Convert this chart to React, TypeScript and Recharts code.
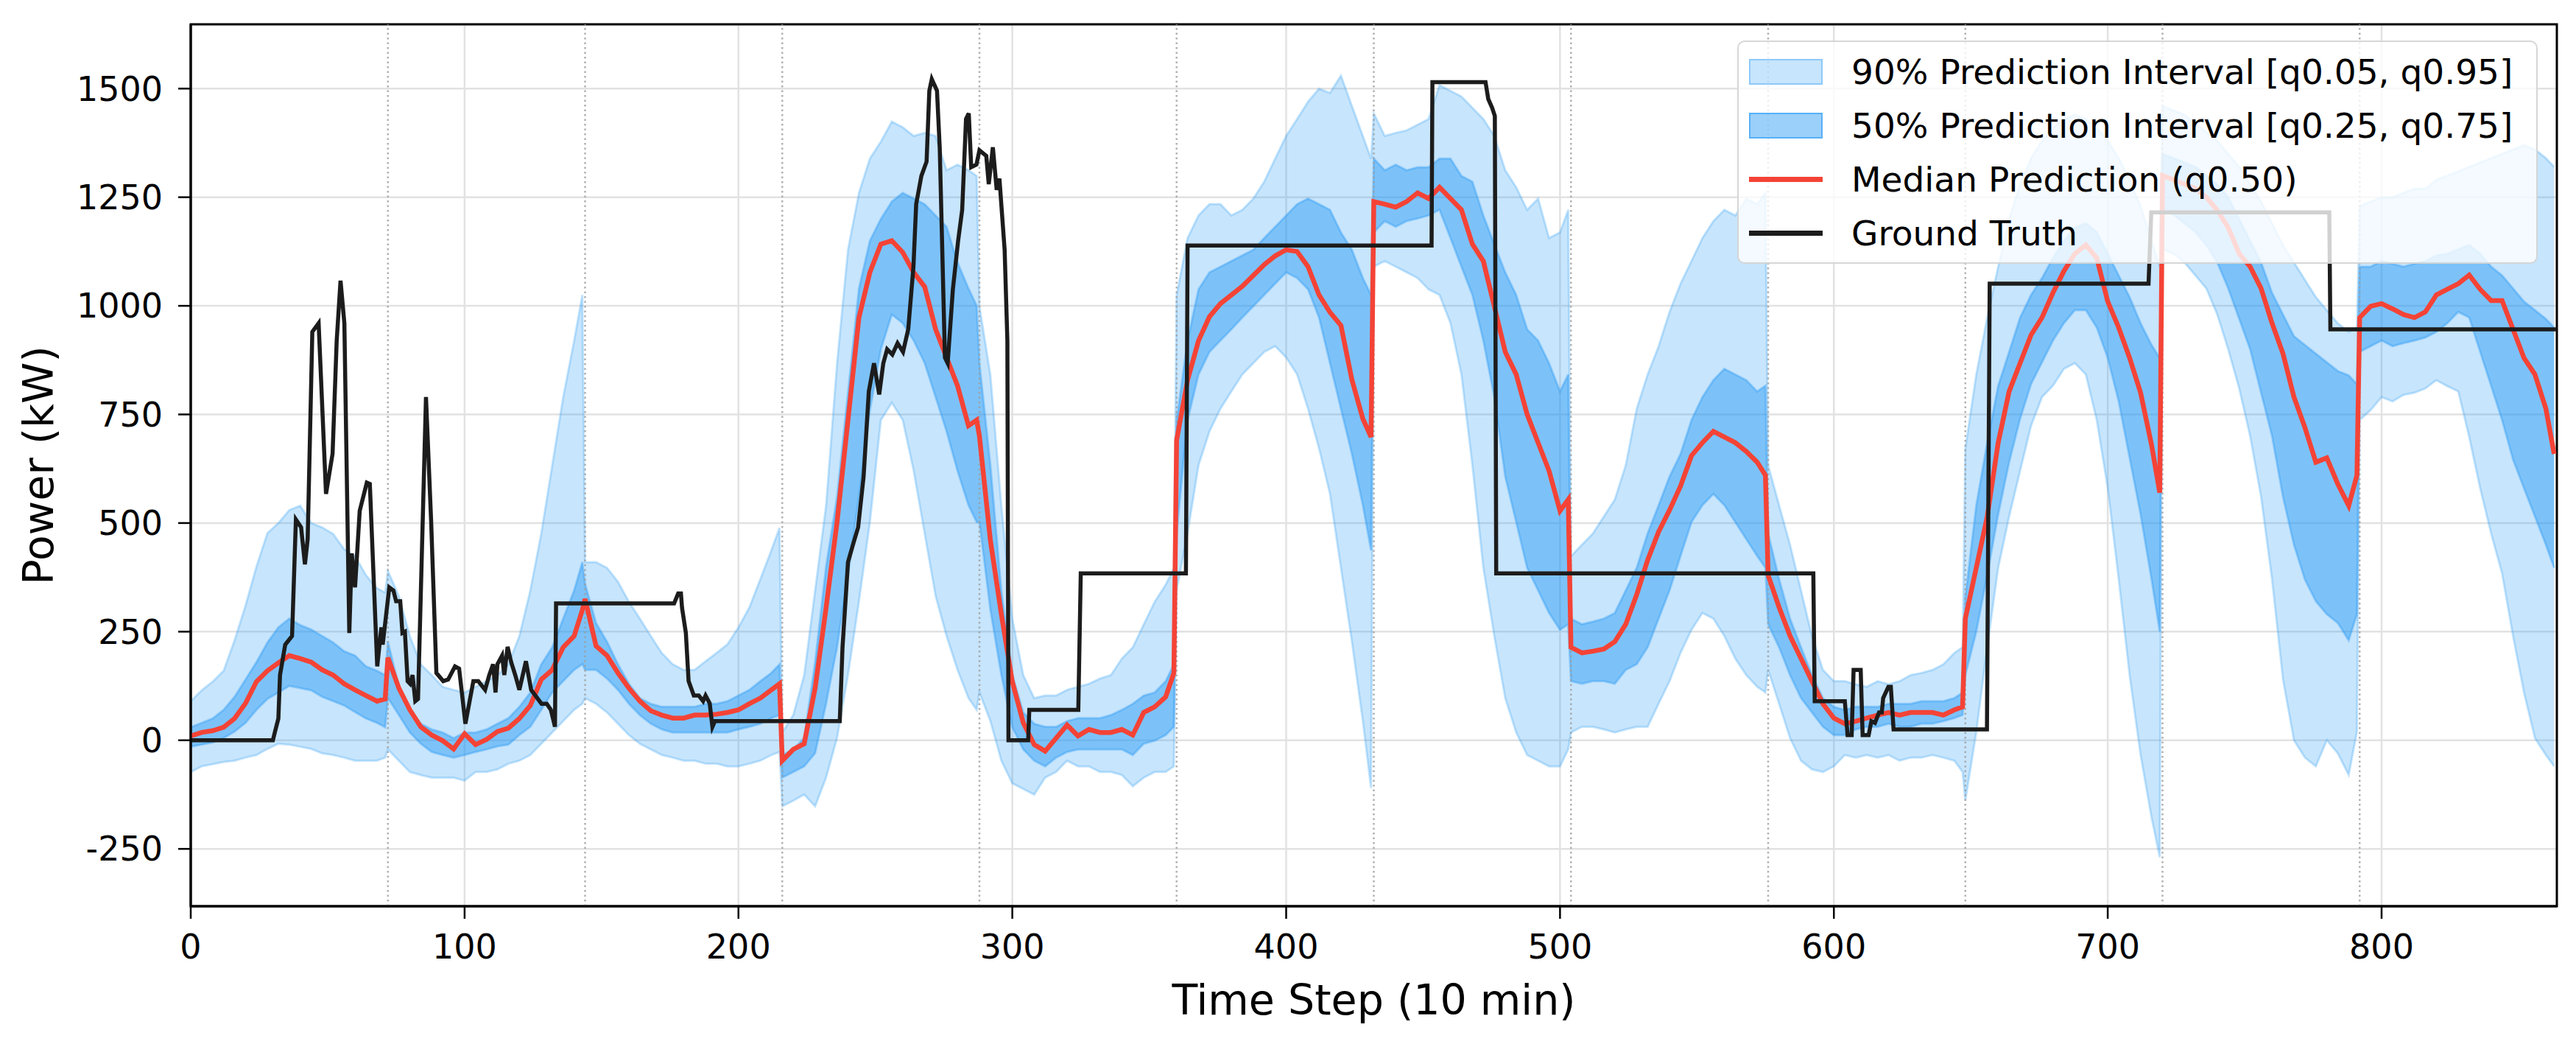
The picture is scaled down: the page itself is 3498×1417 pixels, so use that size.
import { Area, CartesianGrid, ComposedChart, Line, ReferenceArea, ReferenceLine, XAxis, YAxis } from 'recharts'

const FONT = '"DejaVu Sans", Verdana, sans-serif'
const BLUE = '#2196F3'
const RED = '#F44336'
const INK = '#1c1c1c'

// forecasts are issued in 12-hour blocks of 72 steps; each block is sampled at these offsets
const CHUNK = 72
const CHUNK_OFFSETS = [0, 4, 8, 12, 16, 20, 24, 28, 32, 36, 40, 44, 48, 52, 56, 60, 64, 68, 71]
const BOUNDARIES = [72, 144, 216, 288, 360, 432, 504, 576, 648, 720, 792]

const X_TICKS = [0, 100, 200, 300, 400, 500, 600, 700, 800]
const Y_TICKS = [-250, 0, 250, 500, 750, 1000, 1250, 1500]

// one row per 72-step block
const Q50 = [
  10, 18, 22, 30, 50, 85, 135, 160, 178, 195, 188, 180, 162, 150, 130, 116, 103, 90, 95,
  190, 120, 70, 31, 12, -1, -20, 15, -10, 2, 20, 28, 50, 80, 140, 162, 214, 240, 300,
  325, 217, 195, 155, 120, 90, 68, 58, 51, 51, 58, 58, 60, 64, 70, 84, 97, 116, 130,
  -47, -21, -8, 120, 305, 502, 737, 973, 1077, 1142, 1150, 1123, 1077, 1044, 946, 881, 816, 724, 737,
  700, 460, 290, 135, 40, -10, -25, 5, 35, 10, 25, 18, 18, 25, 12, 64, 77, 100, 155,
  691, 829, 920, 975, 1005, 1025, 1045, 1070, 1095, 1115, 1129, 1125, 1090, 1025, 985, 955, 830, 740, 698,
  1240, 1234, 1227, 1240, 1260, 1247, 1273, 1247, 1221, 1142, 1103, 999, 894, 842, 750, 685, 620, 528, 554,
  214, 201, 205, 210, 227, 267, 335, 415, 480, 530, 585, 655, 685, 711, 698, 685, 665, 640, 610,
  380, 306, 240, 188, 136, 84, 51, 38, 44, 51, 58, 64, 58, 64, 64, 64, 58, 70, 77,
  280, 397, 515, 685, 803, 868, 933, 973, 1030, 1080, 1120, 1140, 1110, 1010, 950, 880, 800, 680, 570,
  1300, 1290, 1280, 1270, 1250, 1220, 1180, 1120, 1090, 1040, 960, 890, 790, 720, 640, 650, 590, 540, 610,
  973, 999, 1005, 993, 980, 973, 986, 1025, 1038, 1051, 1071, 1038, 1012, 1012, 946, 880, 842, 763, 659,
]

const Q25 = [
  -15, -10, -5, 5, 20, 40, 70, 95, 110, 125, 120, 115, 100, 90, 80, 65, 50, 40, 30,
  97, 58, 18, -8, -27, -34, -40, -34, -27, -21, -14, -10, 12, 31, 70, 110, 136, 162, 175,
  162, 162, 142, 116, 84, 58, 38, 25, 18, 18, 18, 18, 18, 18, 25, 31, 38, 51, 58,
  -86, -73, -60, -30, 84, 214, 380, 560, 760, 900, 980, 960, 920, 868, 790, 711, 620, 541, 502,
  502, 300, 150, 30, -21, -47, -60, -40, -27, -21, -21, -21, -21, -21, -34, -8, -1, 12, 31,
  476, 737, 842, 894, 920, 946, 973, 999, 1025, 1051, 1077, 1064, 1038, 973, 868, 763, 659, 541, 437,
  1169, 1195, 1182, 1195, 1201, 1208, 1221, 1156, 1090, 1025, 920, 790, 607, 502, 397, 345, 293, 254, 267,
  136, 130, 136, 136, 130, 162, 175, 214, 280, 345, 424, 502, 541, 567, 541, 502, 463, 424, 397,
  267, 214, 150, 97, 64, 31, 12, 12, 25, 31, 31, 38, 31, 31, 38, 38, 44, 51, 58,
  150, 250, 380, 520, 640, 740, 820, 870, 920, 960, 990, 990, 950, 880, 780, 650, 520, 370, 250,
  1220, 1210, 1190, 1170, 1140, 1100, 1040, 970, 900, 800, 700, 560, 450, 370, 320, 290, 270, 230, 290,
  894, 907, 920, 907, 914, 920, 927, 940, 960, 986, 973, 894, 816, 737, 646, 580, 515, 450, 397,
]

const Q75 = [
  30, 40, 50, 70, 100, 140, 180, 225, 260, 280, 265, 255, 240, 225, 205, 195, 170, 160, 150,
  227, 123, 70, 38, 25, 18, 5, 18, 18, 25, 38, 51, 77, 110, 175, 214, 280, 345, 410,
  360, 270, 227, 175, 130, 97, 84, 77, 77, 77, 77, 84, 84, 90, 103, 116, 136, 155, 175,
  -34, -21, 5, 180, 400, 560, 800, 1040, 1150, 1200, 1240, 1260, 1247, 1234, 1208, 1182, 1100, 1040, 1000,
  868, 633, 345, 150, 64, 38, 31, 31, 44, 51, 51, 51, 58, 70, 84, 103, 110, 136, 175,
  737, 920, 1038, 1077, 1090, 1103, 1116, 1129, 1156, 1182, 1208, 1234, 1247, 1234, 1221, 1169, 1129, 1064, 1025,
  1339, 1312, 1325, 1312, 1319, 1319, 1339, 1339, 1299, 1286, 1208, 1142, 1077, 1025, 946, 920, 868, 803, 842,
  280, 267, 273, 280, 293, 345, 397, 476, 541, 607, 659, 737, 790, 829, 855, 842, 829, 803, 816,
  476, 371, 280, 214, 150, 97, 77, 70, 77, 77, 77, 84, 84, 84, 90, 90, 90, 97, 110,
  330, 541, 685, 816, 894, 973, 1025, 1064, 1110, 1150, 1180, 1190, 1170, 1120, 1070, 1020, 960, 910, 880,
  1350, 1340, 1330, 1320, 1300, 1280, 1250, 1200, 1150, 1100, 1030, 980, 930, 910, 890, 870, 850, 840, 820,
  1090, 1090, 1103, 1097, 1090, 1097, 1103, 1116, 1120, 1130, 1140, 1120, 1090, 1070, 1040, 1010, 990, 970, 950,
]

const Q05 = [
  -73, -60, -55, -50, -47, -40, -34, -20, -8, -10, -15, -20, -30, -34, -40, -47, -47, -47, -40,
  -21, -47, -73, -80, -86, -86, -86, -93, -73, -73, -67, -54, -47, -34, -8, 18, 44, 70, 84,
  97, 84, 64, 38, 12, -8, -21, -34, -40, -47, -47, -54, -54, -60, -60, -54, -47, -34, -27,
  -152, -139, -125, -152, -86, 5, 150, 319, 502, 737, 777, 737, 620, 476, 332, 240, 162, 97, 70,
  110, 44, -47, -99, -112, -125, -86, -73, -47, -60, -60, -73, -73, -80, -106, -86, -73, -73, -60,
  345, 476, 633, 711, 763, 803, 842, 868, 894, 907, 881, 842, 763, 672, 567, 397, 227, 44, -110,
  1090, 1103, 1090, 1077, 1064, 1038, 1025, 960, 842, 633, 397, 240, 97, 18, -34, -47, -60, -60, -21,
  18, 31, 31, 25, 18, 25, 31, 31, 84, 136, 201, 254, 293, 280, 240, 188, 150, 123, 110,
  162, 84, 5, -47, -67, -73, -60, -34, -40, -34, -40, -34, -47, -40, -40, -34, -40, -47, -73,
  -139, 18, 214, 397, 515, 620, 724, 790, 816, 855, 868, 842, 737, 581, 371, 149, -34, -178, -269,
  1130, 1120, 1100, 1070, 1040, 980, 900, 810, 700, 560, 370, 140, 0, -40, -60, 0, -30, -80, 20,
  737, 760, 790, 780, 795, 800, 810, 829, 815, 803, 698, 580, 476, 384, 240, 110, 5, -34, -60,
]

const Q95 = [
  90, 115, 135, 160, 230, 310, 400, 477, 500, 530, 540, 500, 490, 475, 440, 424, 380, 350, 340,
  390, 332, 240, 175, 150, 123, 116, 110, 123, 136, 150, 175, 240, 345, 476, 633, 790, 920, 1025,
  410, 410, 397, 365, 319, 280, 240, 201, 175, 162, 162, 182, 201, 221, 260, 306, 371, 437, 489,
  18, 58, 150, 345, 541, 868, 1129, 1260, 1339, 1378, 1424, 1411, 1391, 1398, 1391, 1312, 1325, 1312, 1299,
  999, 841, 541, 280, 150, 97, 103, 103, 116, 123, 130, 142, 150, 188, 214, 267, 319, 358, 397,
  1025, 1156, 1208, 1234, 1234, 1208, 1221, 1247, 1286, 1339, 1391, 1430, 1470, 1500, 1490, 1530, 1460, 1391, 1339,
  1443, 1391, 1398, 1404, 1417, 1430, 1508, 1495, 1482, 1456, 1430, 1391, 1312, 1273, 1221, 1247, 1156, 1169, 1221,
  424, 450, 476, 515, 554, 633, 763, 842, 907, 986, 1051, 1103, 1156, 1195, 1221, 1208, 1247, 1234, 1260,
  633, 541, 450, 345, 240, 162, 136, 136, 129, 123, 136, 129, 136, 150, 155, 162, 175, 201, 214,
  672, 842, 973, 1090, 1200, 1280, 1340, 1380, 1410, 1430, 1440, 1430, 1410, 1380, 1340, 1290, 1230, 1150, 1090,
  1460, 1450, 1440, 1420, 1400, 1380, 1350, 1320, 1280, 1240, 1190, 1140, 1100, 1060, 1020, 990, 960, 940, 950,
  1230, 1240, 1250, 1250, 1260, 1270, 1270, 1290, 1300, 1310, 1320, 1330, 1340, 1350, 1360, 1370, 1360, 1340, 1320,
]

// ground truth vertices [time step, kW]
const TRUTH: Array<[number, number]> = [
  [0, 0], [30, 0], [30.7, 18], [32, 50], [32.6, 150], [34.5, 220], [37, 240], [38.4, 508], [40.3, 490],
  [41.7, 405], [42.7, 463], [44.4, 940], [46.7, 960], [49.4, 567], [51.8, 660], [53.3, 920], [54.7, 1058],
  [56.1, 960], [57.9, 247], [58.8, 430], [60, 352], [61.7, 528], [64.3, 593], [65.4, 590], [68.1, 170],
  [69.6, 260], [70.1, 220], [72.5, 352], [74, 345], [75, 320], [76.5, 320], [77.3, 247], [78.2, 250],
  [79.2, 136], [80.1, 130], [81, 150], [82, 90], [83, 95], [85.9, 790], [87.8, 502], [89.7, 155],
  [92.2, 136], [94, 140], [96.5, 170], [98, 165], [100.3, 38], [103.2, 136], [105, 136], [107.5, 116],
  [109, 150], [110.4, 175], [111.3, 110], [112, 175], [113.7, 195], [114.5, 150], [115.7, 215], [117, 180],
  [118.5, 150], [120, 116], [122.4, 182], [124.3, 116], [128.1, 84], [130, 84], [131.5, 70], [133, 31],
  [133.4, 315], [176.5, 315], [178, 338], [179, 338], [179.4, 305], [180.8, 247], [181.8, 136], [183.7, 103],
  [185.5, 103], [187.1, 90], [188, 103], [189.5, 85], [190.5, 31], [191.4, 44], [237, 44], [238, 214],
  [240, 410], [241.8, 450], [243.7, 490], [245.7, 607], [247.6, 803], [249.5, 868], [251.4, 796],
  [252.9, 868], [254.3, 900], [256.2, 888], [258.1, 914], [260.1, 894], [262, 946], [263.9, 1090],
  [264.9, 1234], [266.8, 1299], [268.7, 1332], [269.7, 1495], [270.6, 1522], [272.5, 1495], [273.5, 1364],
  [275.4, 881], [276.4, 868], [278.3, 1038], [280.2, 1149], [281.7, 1221], [283.1, 1430], [284.1, 1443],
  [285, 1319], [286.9, 1325], [288, 1358], [290.5, 1345], [291.4, 1280], [292.9, 1365], [294.3, 1267],
  [295.3, 1293], [297.2, 1129], [298.2, 920], [298.6, 0], [305.8, 0], [306.2, 70], [324.1, 70], [325, 384],
  [363.4, 384], [364, 1139], [453.1, 1139], [453.4, 1515], [472.8, 1515], [473.8, 1476], [475.2, 1456],
  [476.2, 1437], [476.7, 384], [592.5, 384], [593, 90], [604, 90], [605, 12], [606.5, 12], [607.2, 162],
  [609.8, 162], [610.5, 12], [612.7, 12], [613.7, 44], [615, 40], [616.5, 64], [617.5, 64], [618, 97],
  [619.9, 123], [620.8, 123], [621.8, 25], [655.9, 25], [656.9, 1051], [714.9, 1051], [715.9, 1215],
  [780.9, 1215], [781.3, 946], [864, 946],
]

type QuantilePoint = { x: number; q05: number; q25: number; q50: number; q75: number; q95: number }

const STEPS = BOUNDARIES.concat(864)
  .map((end) => end - CHUNK)
  .flatMap((start) => CHUNK_OFFSETS.map((offset) => start + offset))

const quantileData: QuantilePoint[] = STEPS.map((x, i) => ({
  x,
  q05: Q05[i],
  q25: Q25[i],
  q50: Q50[i],
  q75: Q75[i],
  q95: Q95[i],
}))

const truthData = TRUTH.map(([x, y]) => ({ x, y }))

const LEGEND_ITEMS = [
  { label: '90% Prediction Interval [q0.05, q0.95]', kind: 'patch', opacity: 0.25 },
  { label: '50% Prediction Interval [q0.25, q0.75]', kind: 'patch', opacity: 0.45 },
  { label: 'Median Prediction (q0.50)', kind: 'line', color: RED },
  { label: 'Ground Truth', kind: 'line', color: INK },
]

const tickStyle = { fontSize: 46, fill: '#000', fontFamily: FONT }

function YLabel({ viewBox }: { viewBox?: { x: number; y: number; height: number } }) {
  if (!viewBox) return null
  const x = viewBox.x + 72
  const y = viewBox.y + viewBox.height / 2
  return (
    <text x={x} y={y} transform={`rotate(-90 ${x} ${y})`} textAnchor="middle" fontSize={57} fontFamily={FONT} fill="#000">
      Power (kW)
    </text>
  )
}

function XLabel({ viewBox }: { viewBox?: { x: number; y: number; width: number } }) {
  if (!viewBox) return null
  return (
    <text x={viewBox.x + viewBox.width / 2} y={viewBox.y + 147} textAnchor="middle" fontSize={57} fontFamily={FONT} fill="#000">
      Time Step (10 min)
    </text>
  )
}

function ChartLegend() {
  return (
    <div
      style={{
        position: 'absolute',
        left: 2359,
        top: 55,
        width: 1087,
        height: 303,
        boxSizing: 'border-box',
        background: 'rgba(255,255,255,0.8)',
        border: '2.5px solid rgba(204,204,204,0.8)',
        borderRadius: 10,
        fontFamily: FONT,
        fontSize: 47,
        color: '#000',
      }}
    >
      {LEGEND_ITEMS.map((item, i) => (
        <div key={item.label} style={{ position: 'absolute', left: 0, top: 4 + i * 73, height: 73, width: '100%' }}>
          {item.kind === 'patch' ? (
            <div
              style={{
                position: 'absolute',
                left: 14,
                top: 19,
                width: 100,
                height: 35,
                boxSizing: 'border-box',
                background: `rgba(33,150,243,${item.opacity})`,
                border: `2.5px solid rgba(33,150,243,${item.opacity + 0.1})`,
              }}
            />
          ) : (
            <div style={{ position: 'absolute', left: 14, top: 33, width: 100, height: 6.5, background: item.color }} />
          )}
          <div style={{ position: 'absolute', left: 153, top: 0, lineHeight: '73px', whiteSpace: 'nowrap' }}>{item.label}</div>
        </div>
      ))}
    </div>
  )
}

export default function App() {
  return (
    <div style={{ position: 'absolute', left: 0, top: 0, width: 3498, height: 1417, background: '#fff' }}>
      <ComposedChart width={3498} height={1417} data={quantileData} margin={{ top: 33, right: 26, bottom: 0, left: 0 }}>
        <CartesianGrid stroke="#e2e2e2" strokeWidth={2.5} />
        <XAxis
          dataKey="x"
          type="number"
          domain={[0, 864]}
          ticks={X_TICKS}
          allowDataOverflow
          height={187}
          tick={tickStyle}
          tickSize={17}
          tickMargin={21}
          tickLine={{ stroke: '#000', strokeWidth: 2.5 }}
          axisLine={{ stroke: '#000', strokeWidth: 3 }}
          label={{ content: XLabel }}
        />
        <YAxis
          type="number"
          domain={[-382, 1648]}
          ticks={Y_TICKS}
          allowDataOverflow
          width={259}
          tick={tickStyle}
          tickSize={17}
          tickMargin={21}
          tickLine={{ stroke: '#000', strokeWidth: 2.5 }}
          axisLine={{ stroke: '#000', strokeWidth: 3 }}
          label={{ content: YLabel }}
        />
        <Area
          type="linear"
          dataKey={(d: QuantilePoint) => [d.q05, d.q95]}
          fill={BLUE}
          fillOpacity={0.25}
          stroke={BLUE}
          strokeOpacity={0.25}
          strokeWidth={3}
          isAnimationActive={false}
          activeDot={false}
        />
        <Area
          type="linear"
          dataKey={(d: QuantilePoint) => [d.q25, d.q75]}
          fill={BLUE}
          fillOpacity={0.45}
          stroke={BLUE}
          strokeOpacity={0.35}
          strokeWidth={3}
          isAnimationActive={false}
          activeDot={false}
        />
        {BOUNDARIES.map((x) => (
          <ReferenceLine key={x} x={x} stroke="#9e9e9e" strokeOpacity={0.8} strokeWidth={2.5} strokeDasharray="2.5 4" />
        ))}
        <Line
          type="linear"
          dataKey="q50"
          stroke={RED}
          strokeWidth={6.5}
          dot={false}
          activeDot={false}
          isAnimationActive={false}
        />
        <Line
          type="linear"
          data={truthData}
          dataKey="y"
          stroke={INK}
          strokeWidth={5.5}
          dot={false}
          activeDot={false}
          isAnimationActive={false}
        />
        <ReferenceArea x1={0} x2={864} y1={-382} y2={1648} fill="none" stroke="#000" strokeWidth={3} />
      </ComposedChart>
      <ChartLegend />
    </div>
  )
}
